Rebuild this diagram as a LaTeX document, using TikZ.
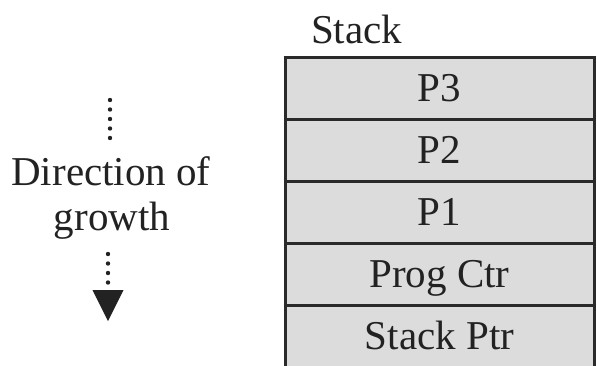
\documentclass[tikz,border=0pt]{standalone}
\usepackage{fontspec}
\setmainfont{Liberation Serif}
\usetikzlibrary{arrows.meta}
\definecolor{cellfill}{HTML}{DCDCDC}
\definecolor{cellline}{HTML}{2A2A2A}
\definecolor{inktext}{HTML}{222222}
\begin{document}
\begin{tikzpicture}[x=1pt,y=-1pt,
  cell/.style={draw=cellline, line width=3pt, fill=cellfill, minimum width=309pt,
    minimum height=62pt, inner sep=0pt, text height=0.662em, text depth=0pt,
    text=inktext},
  lbl/.style={text=inktext, inner sep=0pt},
  dotline/.style={line width=4.4pt, line cap=round, dash pattern=on 0pt off 9.5pt, draw=inktext}
]
\clip (0,0) rectangle (597,365);
\fill[white] (0,0) rectangle (597,365);
\fontsize{41}{45}\selectfont
\node[cell] (p3) at (439.5,88) {P3};
\node[cell] (p2) at (439.5,150) {P2};
\node[cell] (p1) at (439.5,212) {P1};
\node[cell] (pc) at (439.5,274) {Prog Ctr};
\node[cell] (sp) at (439.5,336) {Stack Ptr};
\node[lbl, anchor=base west] (stk) at (311,43) {Stack};
\node[lbl, anchor=base] (dir) at (111,185) {Direction of};
\node[lbl, anchor=base] (grw) at (112,230) {growth};
\coordinate (a1) at (110,100);
\coordinate (a2) at (110,139);
\coordinate (b1) at (108,254);
\coordinate (b2) at (108,321);
\draw[dotline] (a1) -- (a2);
\draw[dotline, -{Triangle[width=31pt,length=31pt,line width=0pt]}] (b1) -- (b2);
\end{tikzpicture}
\end{document}
